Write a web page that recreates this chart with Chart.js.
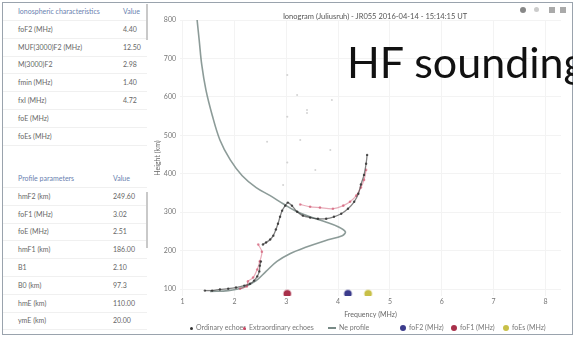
<!DOCTYPE html>
<html><head><meta charset="utf-8">
<script src="https://cdn.jsdelivr.net/npm/chart.js@4"></script>
<style>
html,body{margin:0;padding:0;background:#fff;width:573px;height:337px;overflow:hidden;font-family:Lato,"Open Sans",sans-serif;}
#frame{position:absolute;left:2px;top:2px;width:569px;height:331px;border:1px solid #9aa3ad;}
.tbl{position:absolute;left:3px;width:144px;font-size:7px;color:#666;}
.row{position:absolute;left:0;width:144px;height:17px;border-bottom:1px solid #f0f0f0;}
.row span{position:absolute;top:4px;white-space:nowrap;}
.hdr span{color:#6a7fb0;}
.scroll{position:absolute;width:2px;background:#c9c9c9;}
#big{position:absolute;left:347px;top:40px;font-size:43px;line-height:43px;color:#111;white-space:nowrap;}
#ttl{position:absolute;left:180px;width:390px;top:12px;text-align:center;font-size:7.5px;color:#555;}
.tb{position:absolute;top:7px;width:6px;height:6px;background:#999;}
#leg{position:absolute;top:323px;left:0;width:573px;height:10px;font-size:7px;color:#777;}
#leg .it{position:absolute;top:0;white-space:nowrap;}
#leg .mk{display:inline-block;vertical-align:middle;margin-right:3px;}
#wrap{position:absolute;left:150px;top:0;width:423px;height:337px;}
</style></head>
<body>
<div id="frame"></div>
<div id="t1" class="tbl" style="top:3px"></div>
<div id="t2" class="tbl" style="top:170px"></div>
<div class="scroll" style="left:146px;top:4px;height:36px"></div>
<div class="scroll" style="left:146px;top:192px;height:56px"></div>
<div id="wrap"><canvas id="c" width="423" height="337"></canvas></div>
<div id="ttl">Ionogram (Juliusruh) - JR055 2016-04-14 - 15:14:15 UT</div>
<div class="tb" style="left:520px;border-radius:50%;background:#888"></div>
<div class="tb" style="left:534px;border-radius:50%;background:#ccc;width:5px;height:5px"></div>
<div class="tb" style="left:549px;background:#aaa"></div>
<div class="tb" style="left:560px;background:#aaa"></div>
<div id="big">HF sounding</div>
<div id="leg"></div>
<script>
// ---- data ----
const xTicks = [1, 2, 3, 4, 5, 6, 7, 8];
const yTicks = [100, 200, 300, 400, 500, 600, 700, 800];

const profileFreq   = [1.28,1.32,1.37,1.45,1.57,1.72,1.92,2.15,2.42,2.69,2.94,3.17,3.46,3.75,4.00,4.14,4.08,3.75,3.36,3.07,2.82,2.61,2.42,2.17,1.88,1.53];
const profileHeight = [800,748,683,618,553,488,436,395,364,343,322,304,288,275,262,249,239,226,208,192,172,146,122,104,96,94];

// null marks a gap in the trace
const oFreq   = [1.43,1.57,1.72,1.88,2.03,2.19,2.30,2.38,2.44,2.48,2.49,2.51,null,2.55,2.61,2.69,2.75,2.80,2.84,2.88,2.92,2.98,3.03,3.11,3.21,3.32,3.46,3.61,3.77,3.92,4.06,4.19,4.31,4.39,4.44,4.50,4.54,4.56];
const oHeight = [96,96,99,101,104,109,114,122,133,146,161,172,null,216,221,229,239,255,270,288,304,317,325,317,301,291,286,283,283,288,296,309,327,348,372,397,426,449];

const xFreq   = [2.11,2.24,2.26,2.36,2.44,2.49,2.53,2.46,null,3.27,3.46,3.65,3.90,4.10,4.23,4.35,4.44,4.50,4.54];
const xHeight = [101,107,120,130,151,172,197,216,null,320,314,312,309,317,327,343,364,384,410];

const noiseFreq   = [3.02,3.21,3.40,3.88,3.02,3.40,2.63,3.02,2.94,3.27,3.56,3.85];
const noiseHeight = [657,605,566,592,548,558,483,429,371,488,410,462];

const critLabels = ["foF2 (MHz)", "foF1 (MHz)", "foEs (MHz)"];
const critFreq   = [4.19, 3.02, 4.58];
const critHeight = [88, 88, 88];

const table1Head = ["Ionospheric characteristics", "Value"];
const table1Labels = ["foF2 (MHz)", "MUF(3000)F2 (MHz)", "M(3000)F2", "fmin (MHz)", "fxI (MHz)", "foE (MHz)", "foEs (MHz)"];
const table1Values = ["4.40", "12.50", "2.98", "1.40", "4.72", "", ""];
const table2Head = ["Profile parameters", "Value"];
const table2Labels = ["hmF2 (km)", "foF1 (MHz)", "foE (MHz)", "hmF1 (km)", "B1", "B0 (km)", "hmE (km)", "ymE (km)"];
const table2Values = ["249.60", "3.02", "2.51", "186.00", "2.10", "97.3", "110.00", "20.00"];

const legendLabels = ["Ordinary echoes", "Extraordinary echoes", "Ne profile"];

// ---- tables ----
function buildTable(id, head, labels, values, vx) {
  const el = document.getElementById(id);
  let html = '<div class="row hdr" style="top:0"><span style="left:15px">' + head[0] + '</span><span style="left:' + vx + 'px">' + head[1] + '</span></div>';
  labels.forEach((l, i) => {
    html += '<div class="row" style="top:' + (17.8 * (i + 1)) + 'px"><span style="left:15px">' + l + '</span><span style="left:' + vx + 'px">' + values[i] + '</span></div>';
  });
  el.innerHTML = html;
}
buildTable("t1", table1Head, table1Labels, table1Values, 120);
buildTable("t2", table2Head, table2Labels, table2Values, 110);

const pts = (xs, ys) => xs.map((x, i) => ({x: x, y: ys[i]}));
const critColors = ["#3c3c8c", "#a8304a", "#c8c048"];

new Chart(document.getElementById("c"), {
  type: "scatter",
  data: {
    datasets: [
      {label: legendLabels[2], data: pts(profileFreq, profileHeight), showLine: true, borderColor: "rgba(120,138,134,0.85)", borderWidth: 1.6, pointRadius: 0, tension: 0.35, order: 5},
      {label: "noise", data: pts(noiseFreq, noiseHeight), pointRadius: 1, backgroundColor: "rgba(130,130,130,0.35)", borderWidth: 0, order: 4},
      {label: legendLabels[1], data: pts(xFreq, xHeight), showLine: true, spanGaps: false, borderColor: "rgba(205,70,100,0.45)", borderWidth: 1.2, tension: 0.3, pointRadius: 1.3, backgroundColor: "rgba(205,70,100,0.6)", pointBorderWidth: 0, order: 3},
      {label: legendLabels[0], data: pts(oFreq, oHeight), showLine: true, spanGaps: false, borderColor: "rgba(45,45,45,0.6)", borderWidth: 1.3, tension: 0.3, pointRadius: 1.2, backgroundColor: "rgba(45,45,45,0.8)", pointBorderWidth: 0, order: 2},
      ...critLabels.map((l, i) => ({label: l, data: [{x: critFreq[i], y: critHeight[i]}], pointRadius: 3.5, backgroundColor: critColors[i], borderColor: critColors[i] + "55", borderWidth: 2, order: 1}))
    ]
  },
  options: {
    responsive: false, animation: false, devicePixelRatio: 1,
    layout: {padding: {top: 20, right: 12, bottom: 15, left: 0}},
    plugins: {legend: {display: false}, tooltip: {enabled: false}},
    scales: {
      x: {type: "linear", min: 0.95, max: 8.3,
        afterBuildTicks: s => { s.ticks = xTicks.map(v => ({value: v})); },
        afterFit: s => { s.height = 26; },
        grid: {color: "#f3f3f3", drawTicks: false}, border: {display: false},
        ticks: {padding: 2, font: {size: 7, family: "Lato"}, color: "#777"},
        title: {display: true, text: "Frequency (MHz)", font: {size: 7, family: "Lato"}, color: "#666", padding: {top: 2, bottom: 3}}},
      y: {type: "linear", min: 82, max: 800,
        afterBuildTicks: s => { s.ticks = yTicks.map(v => ({value: v})); },
        afterFit: s => { s.width = 30; },
        grid: {color: "#f3f3f3", drawTicks: false}, border: {display: false},
        ticks: {padding: 4, font: {size: 7, family: "Lato"}, color: "#777"},
        title: {display: true, text: "Height (km)", font: {size: 7, family: "Lato"}, color: "#666", padding: {top: 4, bottom: 2}}}
    }
  }
});

// ---- legend (HTML) ----
const leg = document.getElementById("leg");
const legItems = [
  {x: 190, mk: '<span class="mk" style="width:3px;height:3px;border-radius:50%;background:#333"></span>', t: legendLabels[0]},
  {x: 243, mk: '<span class="mk" style="width:3px;height:3px;border-radius:50%;background:#cd4664"></span>', t: legendLabels[1]},
  {x: 328, mk: '<span class="mk" style="width:8px;height:1.5px;background:#788a86"></span>', t: legendLabels[2]},
  ...critLabels.map((l, i) => ({x: [400, 451, 503][i], mk: '<span class="mk" style="width:6px;height:6px;border-radius:50%;background:' + critColors[i] + '"></span>', t: l}))
];
leg.innerHTML = legItems.map(it => '<div class="it" style="left:' + it.x + 'px">' + it.mk + it.t + '</div>').join("");
</script>
</body></html>
